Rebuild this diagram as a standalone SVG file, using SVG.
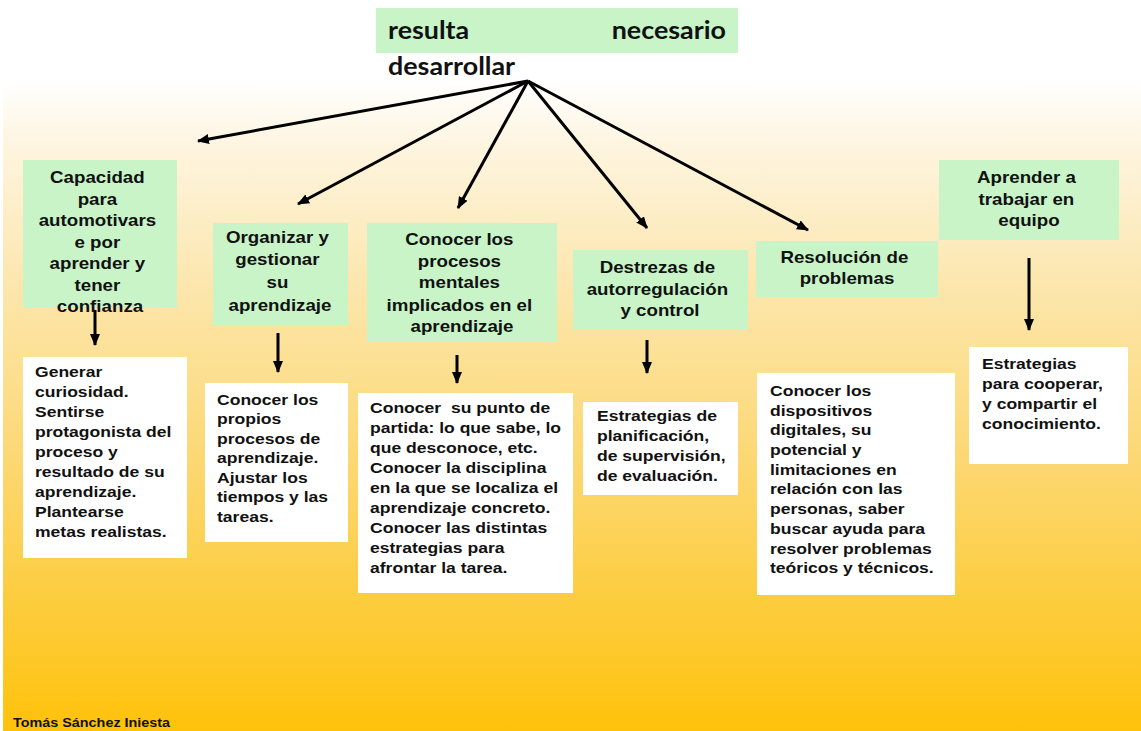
<svg xmlns="http://www.w3.org/2000/svg" width="1141" height="731" viewBox="0 0 1141 731">
<defs>
<linearGradient id="bg" x1="0" y1="0" x2="0" y2="1">
<stop offset="0" stop-color="#FFFFFF"/>
<stop offset="0.1" stop-color="#FEF5E0"/>
<stop offset="0.32" stop-color="#FCE6AC"/>
<stop offset="0.58" stop-color="#FCD874"/>
<stop offset="0.85" stop-color="#FDCA32"/>
<stop offset="1" stop-color="#FFC20A"/>
</linearGradient>
<marker id="ah" markerUnits="userSpaceOnUse" markerWidth="12" markerHeight="10" refX="11" refY="5" orient="auto">
<path d="M0,0 L12,5 L0,10 Z" fill="#000"/>
</marker>
</defs>
<style>
.g{fill:#C8F4C8}
.w{fill:#FFFFFF}
.gt{font-family:"Liberation Sans",Arial,sans-serif;font-weight:bold;font-size:16px;fill:#111;text-anchor:middle}
.wt{font-family:"Liberation Sans",Arial,sans-serif;font-weight:bold;font-size:15px;fill:#111}
.tt{font-family:Lato,"Open Sans",sans-serif;font-weight:bold;font-size:24px;fill:#111}
.ft{font-family:"Liberation Sans",Arial,sans-serif;font-weight:bold;font-size:12.5px;fill:#111}
.c{stroke:#000;stroke-width:3;fill:none;marker-end:url(#ah)}
</style>
<rect x="0" y="0" width="1141" height="731" fill="#FFFFFF"/>
<rect x="3" y="80" width="1138" height="651" fill="url(#bg)"/>

<g id="title">
<rect x="376" y="8" width="362" height="45" class="g"/>
<text class="tt" transform="translate(388,0) scale(1.12,1)" x="0" y="39">resulta</text>
<text class="tt" transform="translate(726,0) scale(1.12,1)" x="0" y="39" text-anchor="end">necesario</text>
<text class="tt" transform="translate(388,0) scale(1.12,1)" x="0" y="75">desarrollar</text>
</g>

<g id="connectors">
<line x1="528" y1="81" x2="198" y2="141" class="c"/>
<line x1="528" y1="81" x2="298" y2="204" class="c"/>
<line x1="528" y1="81" x2="458" y2="208" class="c"/>
<line x1="528" y1="81" x2="647" y2="228" class="c"/>
<line x1="528" y1="81" x2="808" y2="230" class="c"/>
<line x1="95" y1="310" x2="95" y2="345" class="c"/>
<line x1="278" y1="333" x2="278" y2="372" class="c"/>
<line x1="457" y1="355" x2="457" y2="383" class="c"/>
<line x1="647" y1="340" x2="647" y2="373" class="c"/>
<line x1="1029" y1="258" x2="1029" y2="330" class="c"/>
</g>

<g id="b1">
<rect x="23" y="160" width="154" height="148" class="g"/>
<text class="gt" transform="translate(100,0) scale(1.17,1)">
<tspan x="0" y="183">Capacidad</tspan>
<tspan x="0" y="205">para</tspan>
<tspan x="0" y="226">automotivars</tspan>
<tspan x="0" y="248">e por</tspan>
<tspan x="0" y="269">aprender y</tspan>
<tspan x="0" y="291">tener</tspan>
<tspan x="0" y="312">confianza</tspan>
</text>
</g>

<g id="b2">
<rect x="213" y="223" width="135" height="102" class="g"/>
<text class="gt" transform="translate(280,0) scale(1.17,1)">
<tspan x="0" y="243">Organizar y</tspan>
<tspan x="0" y="265">gestionar</tspan>
<tspan x="0" y="288">su</tspan>
<tspan x="0" y="311">aprendizaje</tspan>
</text>
</g>

<g id="b3">
<rect x="367" y="223" width="190" height="119" class="g"/>
<text class="gt" transform="translate(462,0) scale(1.17,1)">
<tspan x="0" y="245">Conocer los</tspan>
<tspan x="0" y="267">procesos</tspan>
<tspan x="0" y="288">mentales</tspan>
<tspan x="0" y="311">implicados en el</tspan>
<tspan x="0" y="332">aprendizaje</tspan>
</text>
</g>

<g id="b4">
<rect x="573" y="250" width="175" height="80" class="g"/>
<text class="gt" transform="translate(660,0) scale(1.17,1)">
<tspan x="0" y="273">Destrezas de</tspan>
<tspan x="0" y="295">autorregulación</tspan>
<tspan x="0" y="316">y control</tspan>
</text>
</g>

<g id="b5">
<rect x="756" y="241" width="182" height="56" class="g"/>
<text class="gt" transform="translate(847,0) scale(1.17,1)">
<tspan x="0" y="263">Resolución de</tspan>
<tspan x="0" y="284">problemas</tspan>
</text>
</g>

<g id="b6">
<rect x="939" y="160" width="180" height="80" class="g"/>
<text class="gt" transform="translate(1029,0) scale(1.17,1)">
<tspan x="0" y="183">Aprender a</tspan>
<tspan x="0" y="205">trabajar en</tspan>
<tspan x="0" y="226">equipo</tspan>
</text>
</g>

<g id="w1">
<rect x="23" y="357" width="164" height="201" class="w"/>
<text class="wt" transform="translate(35,0) scale(1.17,1)">
<tspan x="0" y="377">Generar</tspan>
<tspan x="0" y="397">curiosidad.</tspan>
<tspan x="0" y="417">Sentirse</tspan>
<tspan x="0" y="437">protagonista del</tspan>
<tspan x="0" y="457">proceso y</tspan>
<tspan x="0" y="477">resultado de su</tspan>
<tspan x="0" y="497">aprendizaje.</tspan>
<tspan x="0" y="517">Plantearse</tspan>
<tspan x="0" y="537">metas realistas.</tspan>
</text>
</g>

<g id="w2">
<rect x="205" y="383" width="143" height="159" class="w"/>
<text class="wt" transform="translate(217,0) scale(1.17,1)">
<tspan x="0" y="405">Conocer los</tspan>
<tspan x="0" y="424.5">propios</tspan>
<tspan x="0" y="444">procesos de</tspan>
<tspan x="0" y="463.5">aprendizaje.</tspan>
<tspan x="0" y="483">Ajustar los</tspan>
<tspan x="0" y="502.5">tiempos y las</tspan>
<tspan x="0" y="522">tareas.</tspan>
</text>
</g>

<g id="w3">
<rect x="358" y="393" width="215" height="200" class="w"/>
<text class="wt" xml:space="preserve" transform="translate(370,0) scale(1.17,1)"><tspan x="0" y="413">Conocer  su punto de</tspan><tspan x="0" y="433">partida: lo que sabe, lo</tspan><tspan x="0" y="453">que desconoce, etc.</tspan><tspan x="0" y="473">Conocer la disciplina</tspan><tspan x="0" y="493">en la que se localiza el</tspan><tspan x="0" y="513">aprendizaje concreto.</tspan><tspan x="0" y="533">Conocer las distintas</tspan><tspan x="0" y="553">estrategias para</tspan><tspan x="0" y="573">afrontar la tarea.</tspan></text>
</g>

<g id="w4">
<rect x="583" y="402" width="155" height="93" class="w"/>
<text class="wt" transform="translate(597,0) scale(1.17,1)">
<tspan x="0" y="421">Estrategias de</tspan>
<tspan x="0" y="441">planificación,</tspan>
<tspan x="0" y="461">de supervisión,</tspan>
<tspan x="0" y="481">de evaluación.</tspan>
</text>
</g>

<g id="w5">
<rect x="757" y="373" width="198" height="222" class="w"/>
<text class="wt" transform="translate(770,0) scale(1.17,1)">
<tspan x="0" y="396">Conocer los</tspan>
<tspan x="0" y="415.7">dispositivos</tspan>
<tspan x="0" y="435.4">digitales, su</tspan>
<tspan x="0" y="455.1">potencial y</tspan>
<tspan x="0" y="474.8">limitaciones en</tspan>
<tspan x="0" y="494.5">relación con las</tspan>
<tspan x="0" y="514.2">personas, saber</tspan>
<tspan x="0" y="533.9">buscar ayuda para</tspan>
<tspan x="0" y="553.6">resolver problemas</tspan>
<tspan x="0" y="573.3">teóricos y técnicos.</tspan>
</text>
</g>

<g id="w6">
<rect x="969" y="347" width="159" height="117" class="w"/>
<text class="wt" transform="translate(982,0) scale(1.17,1)">
<tspan x="0" y="369">Estrategias</tspan>
<tspan x="0" y="389">para cooperar,</tspan>
<tspan x="0" y="409">y compartir el</tspan>
<tspan x="0" y="429">conocimiento.</tspan>
</text>
</g>

<g id="footer">
<text class="ft" transform="translate(13,0) scale(1.15,1)" x="0" y="727">Tomás Sánchez Iniesta</text>
</g>
</svg>
